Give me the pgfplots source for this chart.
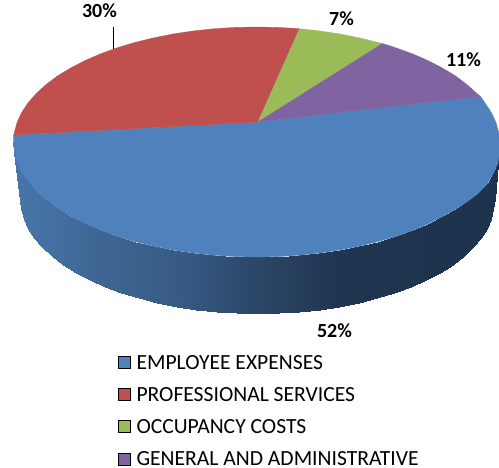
\documentclass[border=0pt]{standalone}
\usepackage{pgfplots}
\usepackage{fontspec}
\setmainfont{Carlito}
\pgfplotsset{compat=1.18}
\definecolor{cblue}{RGB}{79,129,189}
\definecolor{cred}{RGB}{192,80,77}
\definecolor{cgreen}{RGB}{155,187,89}
\definecolor{cpurple}{RGB}{128,100,162}
\tikzset{lab/.style={inner sep=0pt,outer sep=0pt,text=black}}
\begin{document}
\begin{tikzpicture}
\useasboundingbox (0,0) rectangle (499pt,468pt);
\begin{axis}[
  at={(0,0)},anchor=south west,
  scale only axis,width=499pt,height=468pt,
  xmin=0,xmax=499,ymin=0,ymax=468,y dir=reverse,
  hide axis,clip=false,
  colormap={side}{rgb255(14)=(72,118,170) rgb255(100)=(63,102,147) rgb255(180)=(55,90,132) rgb255(260)=(43,70,102) rgb255(340)=(31,53,80) rgb255(499)=(30,51,77)},
  point meta min=14,point meta max=499,
]
% side wall: upper row is the rim of the top face, lower row the bottom rim
\addplot[surf,shader=interp,mesh/rows=2,mesh/cols=37,point meta=x] table {
x y
499.5 142
499.5 152
498 162
494 172
487.5 183.5
478 193.5
467.5 201.5
456 209
442.6 216.5
428.3 223.8
412.7 230.5
395.9 236.4
378 241.6
359.2 246.2
339.6 250.1
319.4 253.1
298.7 255.3
277.7 256.6
256.5 257
235.3 256.6
214.3 255.3
193.6 253.1
173.4 250.1
153.8 246.2
135 241.6
117.1 236.2
100.3 230.1
84.7 223.3
70.4 215.9
57.4 208
46.1 199.5
36.3 190.6
28.2 181.3
21.8 171.8
17.2 162
14.4 152
13.5 142
494.5 199
493.3 209
490.8 218.9
486.5 228.6
480.6 238.2
473.2 247.4
464.1 256.3
453 264.7
440.3 272.6
426.3 280
411 286.7
394.5 292.8
377 298.2
358.6 302.8
339.4 306.6
319.6 309.6
299.3 311.8
278.7 313.1
258 313.5
237.3 313.1
216.7 311.8
196.4 309.6
176.6 306.6
157.4 302.8
139 298.2
121.5 292.8
105 286.7
89.7 280
75.7 272.6
63 264.7
51.9 256.3
42.3 247.4
34.4 238.2
28.1 228.6
23.6 218.9
20.9 209
20 199
};
% top faces
\addplot[fill=cblue,draw=cblue,line width=0.3pt] coordinates {
(258,122)(480.5,96.5)(484.8,102.7)(491.2,112.2)(495.8,122)(498.6,132)(499.5,142)(499.5,152)(498,162)(494,172)(487.5,183.5)(478,193.5)(467.5,201.5)(456,209)(442.6,216.5)(428.3,223.8)(412.7,230.5)(395.9,236.4)(378,241.6)(359.2,246.2)(339.6,250.1)(319.4,253.1)(298.7,255.3)(277.7,256.6)(256.5,257)(235.3,256.6)(214.3,255.3)(193.6,253.1)(173.4,250.1)(153.8,246.2)(135,241.6)(117.1,236.2)(100.3,230.1)(84.7,223.3)(70.4,215.9)(57.4,208)(46.1,199.5)(36.3,190.6)(28.2,181.3)(21.8,171.8)(17.2,162)(14.4,152)(13.5,142)(13.7,135)
} --cycle;
\addplot[fill=cred,draw=cred,line width=0.3pt] coordinates {
(258,122)(13.7,135)(14.4,132)(17.2,122)(21.8,112.2)(28.2,102.7)(36.3,93.4)(46.1,84.5)(57.4,76)(70.4,68.1)(84.7,60.7)(100.3,53.9)(117.1,47.8)(135,42.4)(153.8,37.8)(173.4,33.9)(193.6,30.9)(214.3,28.7)(235.3,27.4)(256.5,27)(277.7,27.4)(299.5,28.7)
} --cycle;
\addplot[fill=cgreen,draw=cgreen,line width=0.3pt] coordinates {
(258,122)(299.5,28.7)(319.4,30.9)(339.6,33.9)(359.2,37.8)(382.5,43.5)
} --cycle;
\addplot[fill=cpurple,draw=cpurple,line width=0.3pt] coordinates {
(258,122)(382.5,43.5)(395.9,47.8)(412.7,53.9)(428.3,60.7)(442.6,68.1)(455.6,76)(466.9,84.5)(476.7,93.4)(480.5,96.5)
} --cycle;
% leader line
\addplot[black,line width=0.7pt] coordinates {(113.5,27)(113.5,49)};
% legend keys
\addplot[only marks,mark=square*,mark size=6pt,mark options={fill=cblue,draw=none}] coordinates {(124.5,362)};
\addplot[only marks,mark=square*,mark size=6pt,mark options={fill=cred,draw=none}] coordinates {(124.5,394.7)};
\addplot[only marks,mark=square*,mark size=6pt,mark options={fill=cgreen,draw=none}] coordinates {(124.5,426.7)};
\addplot[only marks,mark=square*,mark size=6pt,mark options={fill=cpurple,draw=none}] coordinates {(124.5,459)};
% data labels
\node[lab,anchor=base] at (axis cs:99.5,18) {\fontsize{20}{22}\selectfont\bfseries 30\%};
\node[lab,anchor=base] at (axis cs:341.5,26) {\fontsize{20}{22}\selectfont\bfseries 7\%};
\node[lab,anchor=base] at (axis cs:463.5,67) {\fontsize{20}{22}\selectfont\bfseries 11\%};
\node[lab,anchor=base] at (axis cs:334.5,338) {\fontsize{20}{22}\selectfont\bfseries 52\%};
% legend text
\node[lab,anchor=base west] at (axis cs:136.5,369.3) {\fontsize{21.6}{24}\selectfont EMPLOYEE EXPENSES};
\node[lab,anchor=base west] at (axis cs:136.5,401.7) {\fontsize{21.6}{24}\selectfont PROFESSIONAL SERVICES};
\node[lab,anchor=base west] at (axis cs:136.5,434) {\fontsize{21.6}{24}\selectfont OCCUPANCY COSTS};
\node[lab,anchor=base west] at (axis cs:136.5,465.5) {\fontsize{21.6}{24}\selectfont GENERAL AND ADMINISTRATIVE};
\end{axis}
\end{tikzpicture}
\end{document}
